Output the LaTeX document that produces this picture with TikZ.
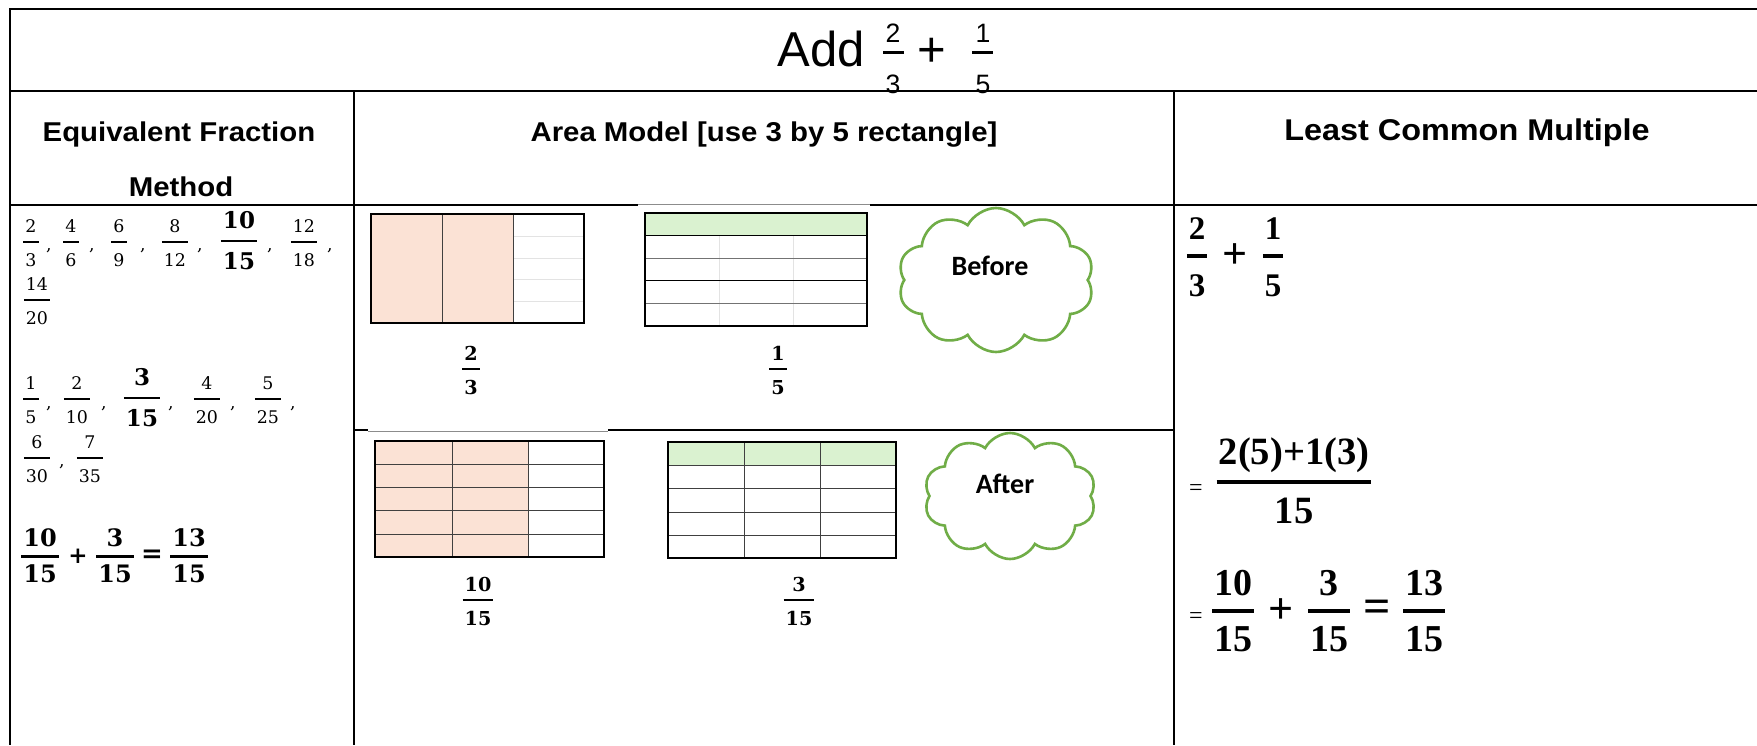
\documentclass[tikz,border=0pt]{standalone}
\usepackage{fontspec}
\setmainfont{Liberation Serif}
\newfontfamily\hdfont[FakeStretch=1.08]{Liberation Sans}
\newfontfamily\ttlfont{Liberation Sans}
\newfontfamily\cldfont{Carlito}
\newfontfamily\eqfont{DejaVu Serif}
\newcommand\eqreg{\eqfont\fontsize{8.7}{10}\selectfont}
\newcommand\eqbig{\eqfont\bfseries\fontsize{11.5}{13}\selectfont}
\newcommand\eqsum{\eqfont\bfseries\fontsize{12}{14}\selectfont}
\newcommand\eqlab{\eqfont\bfseries\fontsize{9.6}{11}\selectfont}
\newcommand\lcmtop{\bfseries\fontsize{16.5}{18}\selectfont}
\newcommand\lcmmid{\bfseries\fontsize{19.3}{21}\selectfont}
\newcommand\lcmbot{\bfseries\fontsize{19}{21}\selectfont}
\usetikzlibrary{shapes.symbols}
\definecolor{peach}{HTML}{FBE2D5}
\definecolor{mint}{HTML}{DAF2D0}
\definecolor{leaf}{HTML}{70AD47}
\definecolor{gridgray}{HTML}{E3E3E3}
\tikzset{
  rule/.style={line width=1.2pt},
  hdr/.style={font=\hdfont\bfseries\fontsize{13.6}{15}\selectfont, anchor=base, inner sep=0pt},
  cell/.style={draw=black!75, line width=0.5pt},
  box/.style={draw=black, line width=0.8pt},
  puff/.style={cloud, cloud puffs=10, cloud puff arc=125, draw=leaf, line width=1.3pt, fill=white, inner sep=0pt},
  cldtxt/.style={font=\cldfont\bfseries\fontsize{14}{16}\selectfont, inner sep=0pt},
  comma/.style={font=\eqreg, inner sep=0pt},
  sign/.style={inner sep=0pt},
  fracpart/.style={inner xsep=0.8pt, inner ysep=0pt},
  pics/frc/.style n args={6}{code={
      \coordinate (-o) at (0,0);
      \node[fracpart, font=#3] (-n) at (0,-#5) {#1};
      \node[fracpart, font=#3] (-d) at (0,#6) {#2};
      \draw[line width=#4] (-n.west |- -o) -- (-n.east |- -o) (-d.west |- -o) -- (-d.east |- -o);
  }},
}
\begin{document}
\begin{tikzpicture}[x=0.5pt, y=-0.5pt]
    \useasboundingbox (0,0) rectangle (1757,745);
    \fill[white] (0,0) rectangle (1757,745);
    % table
    \draw[rule] (1757,9) -- (10,9) -- (10,745);
    \draw[rule] (10,91) -- (1757,91);
    \draw[rule] (10,205) -- (638,205) (870,205) -- (1757,205);
    \draw[black!45, line width=0.4pt] (638,204) -- (870,204);
    \draw[rule] (354,91) -- (354,745) (1174,91) -- (1174,745);
    \draw[rule] (354,430) -- (368,430) (608,430) -- (1174,430);
    \draw[black!45, line width=0.4pt] (368,431) -- (608,431);
    % title
    \node[font=\ttlfont\fontsize{24.5}{28}\selectfont, anchor=base west, inner sep=0pt] (add) at (777,66) {Add};
    \node[font=\ttlfont\fontsize{13.3}{15}\selectfont, inner sep=0pt] (tn1) at (893,33) {2};
    \node[font=\ttlfont\fontsize{13.3}{15}\selectfont, inner sep=0pt] (td1) at (893,84) {3};
    \node[font=\ttlfont\fontsize{24.5}{28}\selectfont, inner sep=0pt] (tplus) at (932,52) {+};
    \node[font=\ttlfont\fontsize{13.3}{15}\selectfont, inner sep=0pt] (tn2) at (983,33) {1};
    \node[font=\ttlfont\fontsize{13.3}{15}\selectfont, inner sep=0pt] (td2) at (983,84) {5};
    \draw[line width=1.5pt] (883,52) -- (904,52) (972,52) -- (993,52);
    % headers
    \node[hdr] (hef) at (179,141) {Equivalent Fraction};
    \node[hdr] (hmeth) at (181,196) {Method};
    \node[hdr] (ham) at (764,141) {Area Model [use 3 by 5 rectangle]};
    \node[hdr, font=\hdfont\bfseries\fontsize{15}{17}\selectfont] (hlcm) at (1467,140) {Least Common Multiple};
    % equivalent fractions
    \foreach \x/\fn/\fd in {31/2/3, 71/4/6, 119/6/9, 175/8/12, 304/12/18}
        \pic (ra-\fn) at (\x,242) {frc={\fn}{\fd}{\eqreg}{1pt}{16}{18}};
    \pic (ra-10) at (239,241) {frc={10}{15}{\eqbig}{1.4pt}{20.5}{20.3}};
    \foreach \x in {49,92,143,200,270,330}
        \node[comma] (ca-\x) at (\x,251) {,};
    \pic (ra-14) at (37,300) {frc={14}{20}{\eqreg}{1pt}{16}{18}};
    \foreach \x/\fn/\fd in {31/1/5, 77/2/10, 207/4/20, 268/5/25}
        \pic (rb-\fn) at (\x,399) {frc={\fn}{\fd}{\eqreg}{1pt}{16}{18}};
    \pic (rb-3) at (142,398) {frc={3}{15}{\eqbig}{1.4pt}{20.5}{20.3}};
    \foreach \x in {49,104,171,233,293}
        \node[comma] (cb-\x) at (\x,409) {,};
    \pic (rc-6) at (37,458) {frc={6}{30}{\eqreg}{1pt}{16}{18}};
    \pic (rc-7) at (90,458) {frc={7}{35}{\eqreg}{1pt}{16}{18}};
    \node[comma] (cc) at (62,467) {,};
    \pic (rd-10) at (40,556) {frc={10}{15}{\eqsum}{1.5pt}{18.5}{18}};
    \node[sign, font=\eqfont\bfseries\fontsize{11.5}{13}\selectfont] (rd-plus) at (78,556) {+};
    \pic (rd-3) at (115,556) {frc={3}{15}{\eqsum}{1.5pt}{18.5}{18}};
    \node[sign, font=\eqfont\bfseries\fontsize{13}{15}\selectfont] (rd-eq) at (152,556) {=};
    \pic (rd-13) at (189,556) {frc={13}{15}{\eqsum}{1.5pt}{18.5}{18}};
    % area model, before
    \fill[peach] (371,214) rectangle (513,323);
    \foreach \y in {236,258,279,301}
        \draw[gridgray, line width=0.5pt] (513,\y) -- (584,\y);
    \draw[cell] (442,214) -- (442,323) (513,214) -- (513,323);
    \draw[box] (371,214) rectangle (584,323);
    \fill[mint] (645,213) rectangle (867,235);
    \foreach \x in {719,793}
        \draw[gridgray, line width=0.5pt] (\x,235) -- (\x,326);
    \foreach \y/\c in {235/black, 258/black!55, 280/black, 303/black!55}
        \draw[\c, line width=0.5pt] (645,\y) -- (867,\y);
    \draw[box] (645,213) rectangle (867,326);
    \pic (a23) at (471,369) {frc={2}{3}{\eqlab}{1.2pt}{15.5}{18.3}};
    \pic (a15) at (778,369) {frc={1}{5}{\eqlab}{1.2pt}{15.5}{18.3}};
    \node[puff, minimum width=98pt, minimum height=72pt] (bcloud) at (996,280) {};
    \node[cldtxt] (btxt) at (990,266) {Before};
    % area model, after
    \fill[peach] (375,441) rectangle (528,557);
    \foreach \x in {452,528}
        \draw[cell] (\x,441) -- (\x,557);
    \foreach \y in {464,487,510,534}
        \draw[cell] (375,\y) -- (604,\y);
    \draw[box] (375,441) rectangle (604,557);
    \fill[mint] (668,442) rectangle (896,465);
    \foreach \x in {744,820}
        \draw[cell] (\x,442) -- (\x,558);
    \foreach \y in {465,488,512,535}
        \draw[cell] (668,\y) -- (896,\y);
    \draw[box] (668,442) rectangle (896,558);
    \pic (a1015) at (478,600) {frc={10}{15}{\eqlab}{1.2pt}{15.5}{18.3}};
    \pic (a315) at (799,600) {frc={3}{15}{\eqlab}{1.2pt}{15.5}{18.3}};
    \node[puff, minimum width=86pt, minimum height=63pt] (acloud) at (1010,496) {};
    \node[cldtxt] (atxt) at (1005,484) {After};
    % least common multiple
    \pic (s23) at (1197,256) {frc={2}{3}{\lcmtop}{1.8pt}{27}{30}};
    \node[sign, font=\bfseries\fontsize{22}{24}\selectfont] (splus) at (1235,256) {+};
    \pic (s15) at (1273,256) {frc={1}{5}{\lcmtop}{1.8pt}{27}{30}};
    \node[sign, font=\fontsize{12}{14}\selectfont] (seq1) at (1196,490) {=};
    \pic (ssum) at (1294,482) {frc={2(5)+1(3)}{15}{\lcmmid}{1.8pt}{27}{29}};
    \node[sign, font=\fontsize{12}{14}\selectfont] (seq2) at (1196,618) {=};
    \pic (s1015) at (1233,611) {frc={10}{15}{\lcmbot}{1.8pt}{28}{28.5}};
    \node[sign, font=\bfseries\fontsize{22}{24}\selectfont] (splus2) at (1281,611) {+};
    \pic (s315) at (1329,611) {frc={3}{15}{\lcmbot}{1.8pt}{28}{28.5}};
    \node[sign, font=\bfseries\fontsize{24}{26}\selectfont] (seq3) at (1377,611) {=};
    \pic (s1315) at (1424,611) {frc={13}{15}{\lcmbot}{1.8pt}{28}{28.5}};
\end{tikzpicture}
\end{document}
